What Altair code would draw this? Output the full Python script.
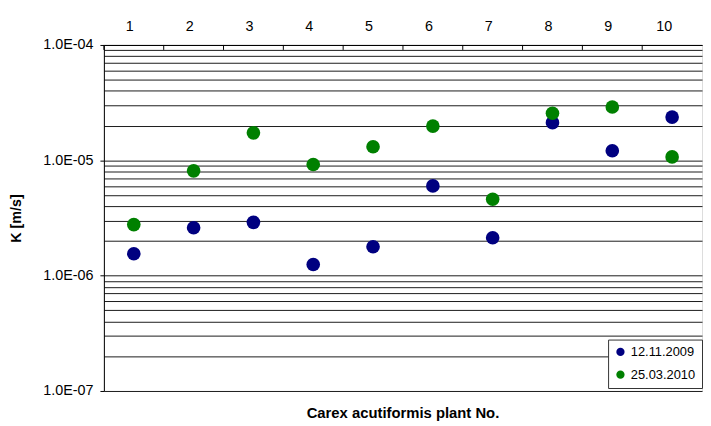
import altair as alt
import pandas as pd

plants = list(range(1, 11))
k_2009 = [1.55e-6, 2.6e-6, 2.9e-6, 1.25e-6, 1.78e-6, 6.0e-6, 2.13e-6, 2.12e-5, 1.21e-5, 2.37e-5]
k_2010 = [2.77e-6, 8.1e-6, 1.73e-5, 9.2e-6, 1.31e-5, 1.98e-5, 4.6e-6, 2.56e-5, 2.9e-5, 1.07e-5]
series_names = ["12.11.2009", "25.03.2010"]
series_colors = ["#000080", "#008000"]

y_grid = [m * 10.0 ** e for e in (-7, -6, -5) for m in range(1, 10)] + [1e-4]

rows = []
for name, vals in zip(series_names, [k_2009, k_2010]):
    for p, v in zip(plants, vals):
        rows.append({"plant": p, "K": v, "series": name})
df = pd.DataFrame(rows)
df_plants = pd.DataFrame({"plant": plants})

FONT = "Liberation Sans"
FS = 14.5
is_decade = "abs(log(datum.value)/LN10 - round(log(datum.value)/LN10)) < 0.001"

x_scale = alt.Scale(type="band", paddingInner=0, paddingOuter=0, domain=plants)
y_scale = alt.Scale(type="log", domain=[1e-7, 1e-4], nice=False)

points = alt.Chart(df).mark_point(filled=True, opacity=1, size=190, shape="circle").encode(
    x=alt.X("plant:O", scale=x_scale, sort=plants,
            axis=alt.Axis(orient="top", title=None, labelAngle=0, ticks=False,
                          domain=True, domainColor="black", labelFontSize=FS,
                          labelPadding=19, labelColor="#000000", labelFont=FONT)),
    y=alt.Y("K:Q", scale=y_scale,
            axis=alt.Axis(values=y_grid, grid=True, gridColor="#1a1a1a", gridWidth=1,
                          labelExpr="(" + is_decade + ") ? '1.0E-0' + toString(-round(log(datum.value)/LN10)) : ''",
                          tickOpacity={"condition": {"test": is_decade, "value": 1}, "value": 0},
                          tickSize=4, tickColor="black", domainColor="black",
                          labelFontSize=FS, labelPadding=7, labelColor="#000000", labelFont=FONT,
                          title="K [m/s]", titleFontSize=FS, titleFont=FONT, titleFontWeight="bold",
                          titlePadding=20, titleColor="#000000")),
    color=alt.Color("series:N", scale=alt.Scale(domain=series_names, range=series_colors),
                    legend=alt.Legend(title=None, orient="none", legendX=510, legendY=298,
                                      symbolType="circle", symbolSize=70,
                                      labelFontSize=13, labelFont=FONT, labelColor="#000000",
                                      strokeColor="#333333", fillColor="white", padding=6,
                                      rowPadding=9, symbolStrokeWidth=0)),
    order=alt.Order("series:N"),
)

band_ticks = alt.Chart(df_plants).mark_rule(color="black", strokeWidth=1).encode(
    x=alt.X("plant:O", scale=x_scale, sort=plants, bandPosition=0),
    y=alt.value(0),
    y2=alt.value(5),
)

chart = alt.layer(band_ticks, points).properties(
    width=605, height=350,
    padding={"left": 0, "top": 8, "right": 0, "bottom": 0},
    title=alt.TitleParams("Carex acutiformis plant No.", orient="bottom", fontSize=15,
                          font=FONT, fontWeight="bold", color="#000000", offset=9),
).configure_view(stroke=None).configure(background="white")

chart.save("out.html", embed_options={"renderer": "svg", "actions": False})
